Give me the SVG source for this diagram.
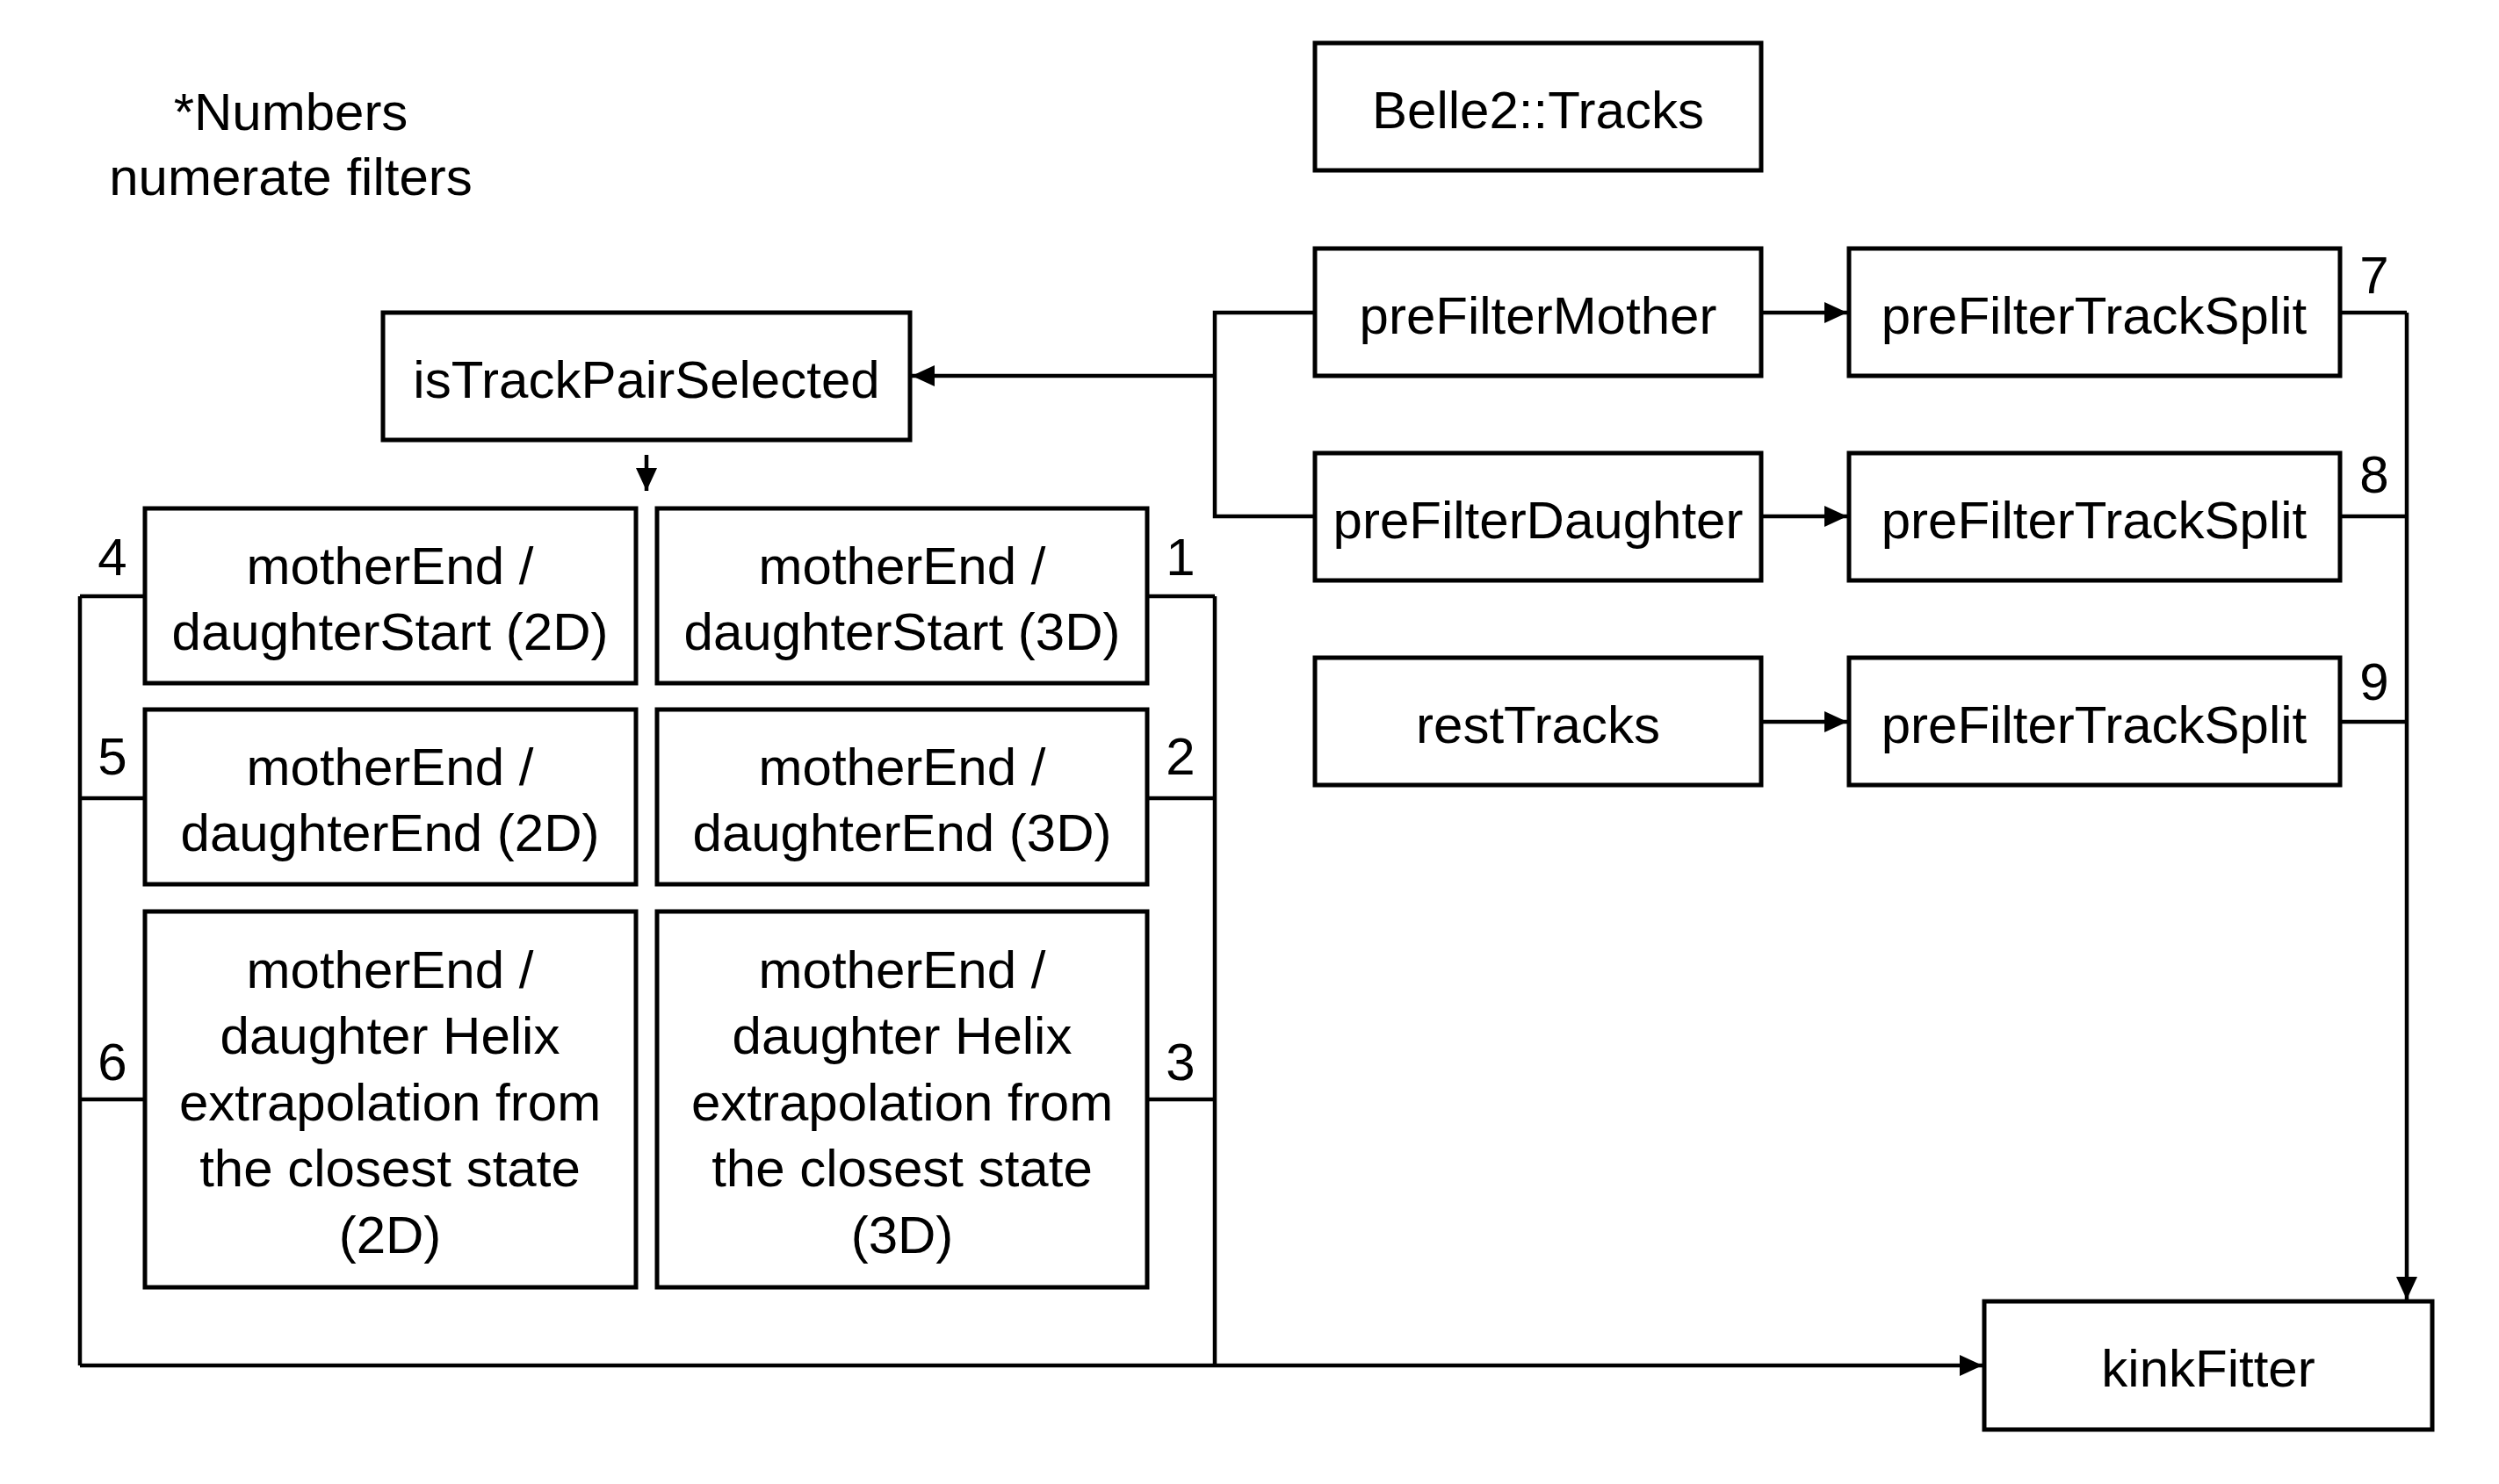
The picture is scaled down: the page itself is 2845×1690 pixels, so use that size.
<svg xmlns="http://www.w3.org/2000/svg" width="2845" height="1690" viewBox="0 0 2845 1690">
<style>
.box{fill:#fff;stroke:#000;stroke-width:5}
.t{font-family:"Liberation Sans",Arial,Helvetica,sans-serif;font-size:60px;fill:#000;text-anchor:middle}
.ln{fill:none;stroke:#000;stroke-width:4.5}
</style>
<defs>
<marker id="ah" markerWidth="26" markerHeight="24" refX="26" refY="12" orient="auto" markerUnits="userSpaceOnUse">
<path d="M0,0 L26,12 L0,24 Z" fill="#000"/>
</marker>
</defs>
<rect width="2845" height="1690" fill="#fff"/>
<g id="note">
<text class="t" x="331" y="148">*Numbers</text>
<text class="t" x="331" y="222">numerate filters</text>
</g>
<g id="connectors">
<path class="ln" d="M2005,356 H2103" marker-end="url(#ah)"/>
<path class="ln" d="M2005,588 H2103" marker-end="url(#ah)"/>
<path class="ln" d="M2005,822 H2103" marker-end="url(#ah)"/>
<path class="ln" d="M1497,356 H1383 V588 H1497"/>
<path class="ln" d="M1383,428 H1038" marker-end="url(#ah)"/>
<path class="ln" d="M736,518 V559" marker-end="url(#ah)"/>
<path class="ln" d="M1306,679 H1383 M1306,909 H1383 M1306,1252 H1383 M1383,679 V1555"/>
<path class="ln" d="M165,679 H91 M165,909 H91 M165,1252 H91 M91,679 V1555"/>
<path class="ln" d="M91,1555 H2257" marker-end="url(#ah)"/>
<path class="ln" d="M2664,356 H2740 M2664,588 H2740 M2664,822 H2740"/>
<path class="ln" d="M2740,356 V1480" marker-end="url(#ah)"/>
</g>
<g id="labels">
<text class="t" x="128" y="655">4</text>
<text class="t" x="128" y="882">5</text>
<text class="t" x="128" y="1230">6</text>
<text class="t" x="1344" y="655">1</text>
<text class="t" x="1344" y="882">2</text>
<text class="t" x="1344" y="1230">3</text>
<text class="t" x="2703" y="334">7</text>
<text class="t" x="2703" y="561">8</text>
<text class="t" x="2703" y="797">9</text>
</g>
<g id="belle2Tracks"><rect class="box" x="1497" y="49" width="508" height="145"/><text class="t" x="1751" y="146">Belle2::Tracks</text></g>
<g id="preFilterMother"><rect class="box" x="1497" y="283" width="508" height="145"/><text class="t" x="1751" y="380">preFilterMother</text></g>
<g id="preFilterDaughter"><rect class="box" x="1497" y="516" width="508" height="145"/><text class="t" x="1751" y="613">preFilterDaughter</text></g>
<g id="restTracks"><rect class="box" x="1497" y="749" width="508" height="145"/><text class="t" x="1751" y="846">restTracks</text></g>
<g id="preFilterTrackSplit1"><rect class="box" x="2105" y="283" width="559" height="145"/><text class="t" x="2384" y="380">preFilterTrackSplit</text></g>
<g id="preFilterTrackSplit2"><rect class="box" x="2105" y="516" width="559" height="145"/><text class="t" x="2384" y="613">preFilterTrackSplit</text></g>
<g id="preFilterTrackSplit3"><rect class="box" x="2105" y="749" width="559" height="145"/><text class="t" x="2384" y="846">preFilterTrackSplit</text></g>
<g id="isTrackPairSelected"><rect class="box" x="436" y="356" width="600" height="145"/><text class="t" x="736" y="453">isTrackPairSelected</text></g>
<g id="f4"><rect class="box" x="165" y="579" width="559" height="199"/><text class="t" x="444" y="665">motherEnd /</text><text class="t" x="444" y="740">daughterStart (2D)</text></g>
<g id="f1"><rect class="box" x="748" y="579" width="558" height="199"/><text class="t" x="1027" y="665">motherEnd /</text><text class="t" x="1027" y="740">daughterStart (3D)</text></g>
<g id="f5"><rect class="box" x="165" y="808" width="559" height="199"/><text class="t" x="444" y="894">motherEnd /</text><text class="t" x="444" y="969">daughterEnd (2D)</text></g>
<g id="f2"><rect class="box" x="748" y="808" width="558" height="199"/><text class="t" x="1027" y="894">motherEnd /</text><text class="t" x="1027" y="969">daughterEnd (3D)</text></g>
<g id="f6"><rect class="box" x="165" y="1038" width="559" height="428"/>
<text class="t" x="444" y="1125">motherEnd /</text><text class="t" x="444" y="1200">daughter Helix</text><text class="t" x="444" y="1276">extrapolation from</text><text class="t" x="444" y="1351">the closest state</text><text class="t" x="444" y="1427">(2D)</text></g>
<g id="f3"><rect class="box" x="748" y="1038" width="558" height="428"/>
<text class="t" x="1027" y="1125">motherEnd /</text><text class="t" x="1027" y="1200">daughter Helix</text><text class="t" x="1027" y="1276">extrapolation from</text><text class="t" x="1027" y="1351">the closest state</text><text class="t" x="1027" y="1427">(3D)</text></g>
<g id="kinkFitter"><rect class="box" x="2259" y="1482" width="510" height="146"/><text class="t" x="2514" y="1579">kinkFitter</text></g>
</svg>
